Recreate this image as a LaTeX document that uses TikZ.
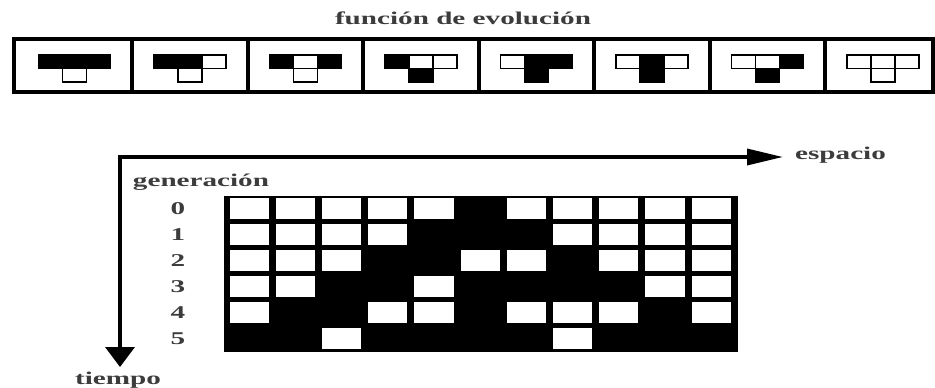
\documentclass[tikz,border=0pt]{standalone}
\usepackage{fontspec}
\usepackage{tikz}
\usetikzlibrary{arrows.meta}
\newfontfamily\lblfont{Liberation Serif}[FakeStretch=1.62]
\definecolor{ink}{HTML}{000000}
\definecolor{txt}{HTML}{3C3C3C}
\colorlet{c0}{white}
\colorlet{c1}{black}

\begin{document}
\begin{tikzpicture}[x=1pt,y=-1pt,
    lbl/.style={text=txt,inner sep=0pt,font=\lblfont\bfseries\fontsize{18}{20}\selectfont},
    frame/.style={draw=ink,line width=3.5pt},
    sep/.style={draw=ink,line width=4pt},
    tcell/.style={draw=ink,line width=1.5pt},
    axis/.style={draw=ink,line width=3.5pt,line cap=rect}]
  \useasboundingbox (0,0) rectangle (935,388);
  % funcion de evolucion
  \node[lbl] (title) at (463,18) {función de evolución};
  \draw[frame] (14,39) rectangle (933,92);
  \foreach \k in {1,...,7}
    \draw[sep] (16.5+115.5*\k,39) -- (16.5+115.5*\k,92);
  \foreach \l/\m/\r/\b [count=\k from 0] in {1/1/1/0,1/1/0/0,1/0/1/0,1/0/0/1,0/1/1/1,0/1/0/1,0/0/1/1,0/0/0/0}{
    \pgfmathsetmacro\cx{74.25+115.5*\k}
    \draw[tcell,fill=c\l] (\cx-36,55) rectangle (\cx-12,68.5);
    \draw[tcell,fill=c\m] (\cx-12,55) rectangle (\cx+12,68.5);
    \draw[tcell,fill=c\r] (\cx+12,55) rectangle (\cx+36,68.5);
    \draw[tcell,fill=c\b] (\cx-12,68.5) rectangle (\cx+12,82);
  }
  % evolucion
  \fill[ink] (223.5,195.5) rectangle (738,352);
  \foreach \bits [count=\r from 0] in {{0,0,0,0,0,1,0,0,0,0,0},{0,0,0,0,1,1,1,0,0,0,0},{0,0,0,1,1,0,0,1,0,0,0},
      {0,0,1,1,0,1,1,1,1,0,0},{0,1,1,0,0,1,0,0,0,1,0},{1,1,0,1,1,1,1,0,1,1,1}}{
    \node[lbl] (g\r) at (178,208.5+26*\r) {\r};
    \foreach \v [count=\c from 0] in \bits
      \fill[c\v] (226+46.2*\c+3.5,195.5+26*\r+2.5) rectangle (226+46.2*\c+42.7,195.5+26*\r+23.5);
  }
  \node[lbl] (gen) at (201,182) {generación};
  % ejes
  \coordinate (o) at (120,157);
  \coordinate (xe) at (783,157);
  \coordinate (te) at (120,367);
  \draw[axis,-{Triangle[length=36pt,width=16pt]}] (o) -- (xe);
  \draw[axis,-{Triangle[length=20pt,width=29pt]}] (o) -- (te);
  \node[lbl,anchor=west] (esp) at (795,155) {espacio};
  \node[lbl] (tmp) at (118,380) {tiempo};
\end{tikzpicture}
\end{document}
